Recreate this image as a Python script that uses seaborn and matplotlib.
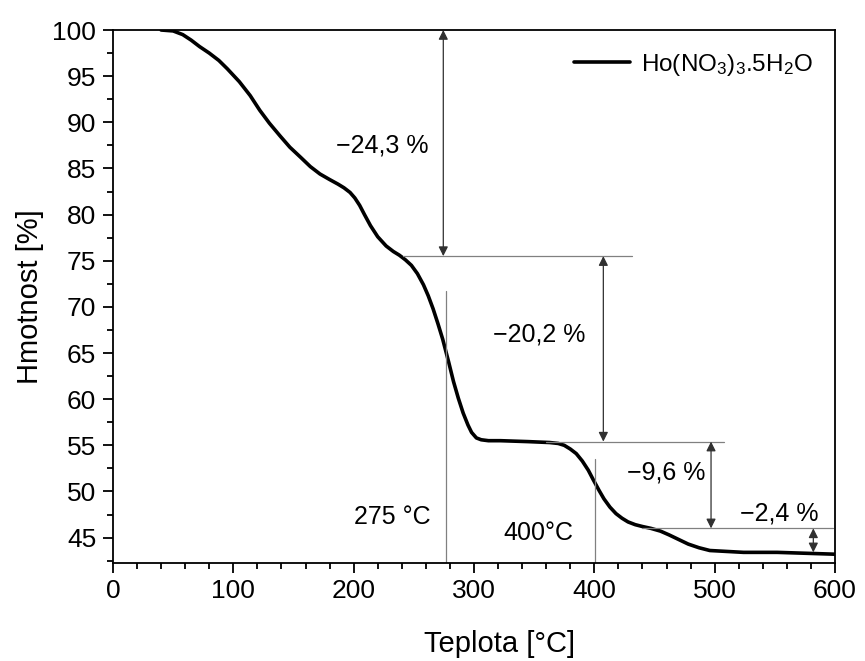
import matplotlib
matplotlib.use("Agg")
import matplotlib.pyplot as plt
import seaborn as sns
import pandas as pd
from matplotlib.ticker import MultipleLocator

temperature = [40, 50, 58, 65, 72, 80, 88, 95, 105, 114, 122, 130, 139, 147, 156,
               164, 172, 180, 187, 192, 197, 201, 205, 209, 214, 220, 227, 233,
               238, 243, 248, 253, 258, 262, 266, 270, 274, 279, 283, 287, 291,
               295, 298, 302, 306, 312, 322, 345, 363, 370, 375, 380, 385, 390,
               395, 399, 404, 408, 413, 418, 423, 428, 434, 440, 447, 455, 462,
               470, 478, 487, 496, 510, 524, 552, 600]
mass = [100.0, 99.9, 99.5, 98.9, 98.2, 97.5, 96.7, 95.8, 94.4, 92.9, 91.3, 89.9,
        88.5, 87.3, 86.2, 85.2, 84.4, 83.8, 83.3, 82.9, 82.4, 81.8, 81.0, 80.0,
        78.8, 77.6, 76.6, 76.0, 75.6, 75.1, 74.5, 73.6, 72.4, 71.2, 69.8, 68.2,
        66.5, 64.0, 61.9, 60.1, 58.5, 57.2, 56.4, 55.8, 55.6, 55.5, 55.5, 55.4,
        55.3, 55.2, 55.0, 54.6, 54.1, 53.3, 52.3, 51.3, 50.1, 49.2, 48.3, 47.6,
        47.1, 46.7, 46.4, 46.2, 46.0, 45.7, 45.3, 44.8, 44.3, 43.9, 43.6, 43.5,
        43.4, 43.4, 43.2]

series_label = r'Ho(NO$_3$)$_3$.5H$_2$O'
x_label = 'Teplota [°C]'
y_label = 'Hmotnost [%]'

step_levels = [100.0, 75.5, 55.4, 46.0, 43.4]
step_labels = ['\u221224,3 %', '\u221220,2 %', '\u22129,6 %', '\u22122,4 %']
temp_marks = [277, 400.5]
temp_labels = ['275 °C', '400°C']

sns.set_theme(style='ticks')
plt.rcParams['font.family'] = ['Liberation Sans', 'DejaVu Sans']
plt.rcParams['mathtext.fontset'] = 'custom'
plt.rcParams['mathtext.rm'] = 'Liberation Sans'
plt.rcParams['mathtext.it'] = 'Liberation Sans'
plt.rcParams['text.color'] = 'black'
plt.rcParams['axes.labelcolor'] = 'black'
plt.rcParams['xtick.color'] = 'black'
plt.rcParams['ytick.color'] = 'black'

fig = plt.figure(figsize=(8.65, 6.61), dpi=100)
ax = fig.add_axes([0.1306, 0.149, 0.8347, 0.8056])

df = pd.DataFrame({'T': temperature, 'm': mass})
sns.lineplot(data=df, x='T', y='m', sort=False, estimator=None, color='black',
             linewidth=2.6, ax=ax, label=series_label)

ax.set_xlim(0, 600)
ax.set_ylim(42.3, 100)
ax.xaxis.set_major_locator(MultipleLocator(100))
ax.xaxis.set_minor_locator(MultipleLocator(20))
ax.yaxis.set_major_locator(MultipleLocator(5))
ax.yaxis.set_minor_locator(MultipleLocator(2.5))
ax.tick_params(which='major', direction='out', length=7, width=1.3,
               labelsize=19, pad=5)
ax.tick_params(which='minor', direction='out', length=4, width=1.3)
for s in ax.spines.values():
    s.set_color('black')
    s.set_linewidth(1.3)

ax.set_xlabel(x_label, fontsize=21)
ax.xaxis.set_label_coords(0.535, -0.127)
ax.set_ylabel(y_label, fontsize=21, labelpad=6)

gl = '#808080'
lw = 0.9
ax.plot([241, 431], [step_levels[1]] * 2, color=gl, lw=lw)
ax.plot([360, 508], [step_levels[2]] * 2, color=gl, lw=lw)
ax.plot([440, 598.5], [step_levels[3]] * 2, color=gl, lw=lw)
ax.plot([temp_marks[0]] * 2, [42.3, 71.7], color=gl, lw=lw)
ax.plot([temp_marks[1]] * 2, [42.3, 53.5], color=gl, lw=lw)

arrow_x = [274.5, 407.5, 497, 582]
for i, x in enumerate(arrow_x):
    ax.annotate('', xy=(x, step_levels[i + 1]), xytext=(x, step_levels[i]),
                arrowprops=dict(arrowstyle='<|-|>', color='#303030', lw=0.9,
                                shrinkA=0, shrinkB=0, mutation_scale=14))

fs = 18
ax.text(224, 87.5, step_labels[0], fontsize=fs, ha='center', va='center')
ax.text(354, 67.0, step_labels[1], fontsize=fs, ha='center', va='center')
ax.text(460, 52.0, step_labels[2], fontsize=fs, ha='center', va='center')
ax.text(553.5, 47.6, step_labels[3], fontsize=fs, ha='center', va='center')
ax.text(232, 47.2, temp_labels[0], fontsize=fs, ha='center', va='center')
ax.text(353.5, 45.5, temp_labels[1], fontsize=fs, ha='center', va='center')

leg = ax.legend(loc='upper right', frameon=False, fontsize=17.5,
                handlelength=2.3, handletextpad=0.45, borderaxespad=0.5)

fig.savefig('out.png', dpi=100)
